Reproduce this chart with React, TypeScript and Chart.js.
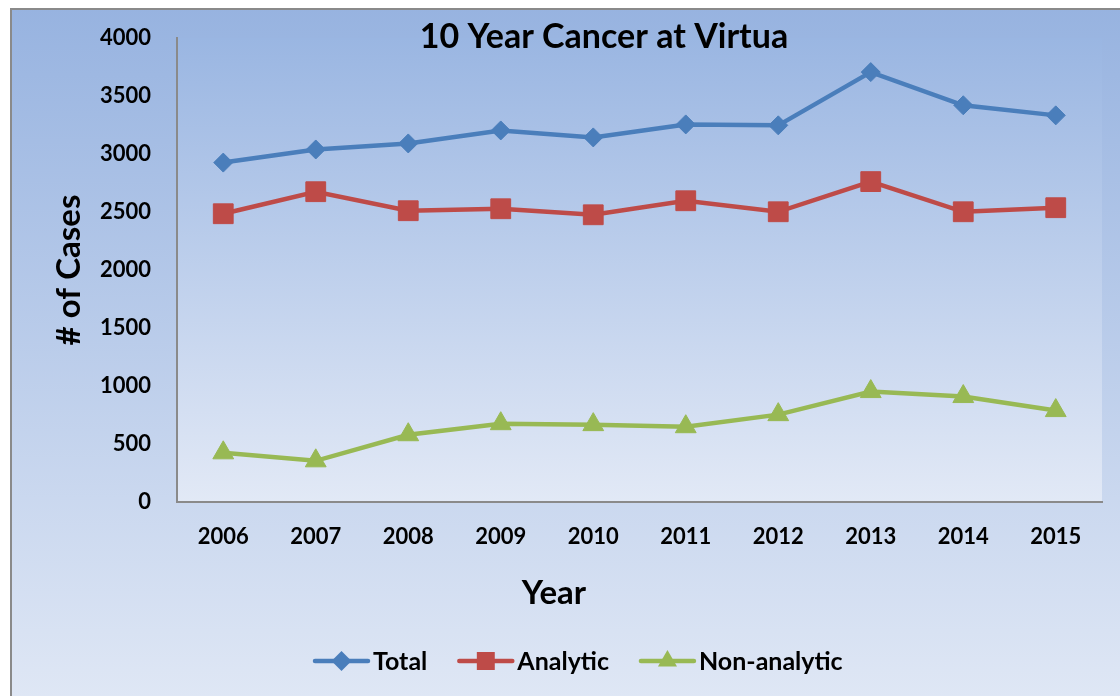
import React, { useEffect, useRef } from "react";
import { Chart, registerables } from "chart.js";

Chart.register(...registerables);

const years = ["2006", "2007", "2008", "2009", "2010", "2011", "2012", "2013", "2014", "2015"];
const totalCases = [2926, 3039, 3091, 3203, 3143, 3255, 3247, 3706, 3420, 3333];
const analyticCases = [2485, 2675, 2511, 2528, 2476, 2597, 2502, 2762, 2502, 2537];
const nonAnalyticCases = [424, 355, 580, 675, 667, 649, 753, 952, 909, 788];
const yMin = 0;
const yMax = 4000;
const yStep = 500;
const chartTitle = "10 Year Cancer at Virtua";
const xTitle = "Year";
const yTitle = "# of Cases";

const FONT = "Lato, 'Open Sans', sans-serif";
const BLUE = "#4a7ebb";
const RED = "#be4b48";
const GREEN = "#98b954";

const W = 1110;
const H = 690;

function drawMarker(ctx: CanvasRenderingContext2D, style: string, x: number, y: number, r: number, color: string) {
  ctx.save();
  ctx.fillStyle = color;
  ctx.beginPath();
  if (style === "rectRot") {
    ctx.moveTo(x, y - r);
    ctx.lineTo(x + r, y);
    ctx.lineTo(x, y + r);
    ctx.lineTo(x - r, y);
  } else if (style === "rect") {
    const s = r * Math.SQRT1_2;
    ctx.rect(x - s, y - s, 2 * s, 2 * s);
  } else {
    ctx.moveTo(x, y - r);
    ctx.lineTo(x + r * Math.sin((2 * Math.PI) / 3), y - r * Math.cos((2 * Math.PI) / 3));
    ctx.lineTo(x + r * Math.sin((4 * Math.PI) / 3), y - r * Math.cos((4 * Math.PI) / 3));
  }
  ctx.closePath();
  ctx.fill();
  ctx.restore();
}

const decorPlugin = {
  id: "decor",
  beforeDraw(chart: any) {
    const { ctx, chartArea: a, width, height } = chart;
    ctx.save();
    const g = ctx.createLinearGradient(0, 0, 0, height);
    g.addColorStop(0, "#97b3e0");
    g.addColorStop(1, "#dfe7f5");
    ctx.fillStyle = g;
    ctx.fillRect(0, 0, width, height);
    const g2 = ctx.createLinearGradient(0, a.top, 0, a.bottom);
    g2.addColorStop(0, "#9ab6e2");
    g2.addColorStop(1, "#e2e9f6");
    ctx.fillStyle = g2;
    ctx.fillRect(a.left, a.top, a.right - a.left, a.bottom - a.top);
    ctx.strokeStyle = "#8a8a8a";
    ctx.lineWidth = 2;
    ctx.strokeRect(1, 1, width + 20, height + 20);
    ctx.restore();
  },
  afterDraw(chart: any) {
    const { ctx } = chart;
    ctx.save();
    ctx.fillStyle = "#000";
    ctx.textAlign = "center";
    ctx.textBaseline = "middle";
    ctx.font = `bold 34px ${FONT}`;
    ctx.fillText(chartTitle, 594, 29);
    ctx.font = `bold 33px ${FONT}`;
    ctx.fillText(xTitle, 544, 585);

    // legend
    ctx.font = `bold 25px ${FONT}`;
    const lineLen = 57;
    const gap = 3;
    const itemGap = 30;
    let x = 303;
    const y = 653;
    chart.data.datasets.forEach((ds: any) => {
      const w = ctx.measureText(ds.label).width;
      ctx.strokeStyle = ds.borderColor;
      ctx.lineWidth = 4.5;
      ctx.lineCap = "round";
      ctx.beginPath();
      ctx.moveTo(x + 2, y);
      ctx.lineTo(x + lineLen - 2, y);
      ctx.stroke();
      drawMarker(ctx, ds.pointStyle, x + lineLen / 2, y, ds.legendRadius, ds.borderColor);
      ctx.fillStyle = "#000";
      ctx.textAlign = "left";
      ctx.fillText(ds.label, x + lineLen + gap, y + 1);
      x += lineLen + gap + w + itemGap;
    });
    ctx.restore();
  },
};

export default function App() {
  const ref = useRef<HTMLCanvasElement>(null);
  useEffect(() => {
    const canvas = ref.current!;
    const mk = (label: string, data: number[], color: string, style: string, r: number, lr: number) => ({
      label,
      data,
      borderColor: color,
      backgroundColor: color,
      borderWidth: 4.5,
      pointStyle: style,
      pointRadius: r,
      pointBackgroundColor: color,
      pointBorderColor: color,
      pointBorderWidth: 1,
      tension: 0,
      legendRadius: lr,
    });
    const chart = new Chart(canvas, {
      type: "line",
      data: {
        labels: years,
        datasets: [
          mk("Total", totalCases, BLUE, "rectRot", 9.5, 10),
          mk("Analytic", analyticCases, RED, "rect", 14, 12.7),
          mk("Non-analytic", nonAnalyticCases, GREEN, "triangle", 12, 11),
        ] as any,
      },
      options: {
        responsive: false,
        animation: false,
        devicePixelRatio: 1,
        layout: { autoPadding: false, padding: { left: 0, top: 30, right: 18, bottom: 76 } },
        plugins: {
          legend: { display: false },
          title: { display: false },
          tooltip: { enabled: false },
        },
        scales: {
          x: {
            type: "category",
            offset: true,
            grid: { display: false, drawTicks: false },
            border: { display: true, color: "#8a8a8a", width: 2 },
            ticks: {
              color: "#000",
              font: { family: FONT, size: 22, weight: "bold" },
              padding: 22,
              maxRotation: 0,
              autoSkip: false,
            },
            afterFit(scale: any) {
              scale.height = 120;
              scale.paddingLeft = 0;
              scale.paddingRight = 0;
            },
          },
          y: {
            min: yMin,
            max: yMax,
            grid: { display: false, drawTicks: false },
            border: { display: true, color: "#8a8a8a", width: 2 },
            ticks: {
              stepSize: yStep,
              color: "#000",
              font: { family: FONT, size: 22, weight: "bold" },
              padding: 26,
              callback: (v: any) => String(v),
            },
            title: {
              display: true,
              text: yTitle,
              color: "#000",
              font: { family: FONT, size: 33, weight: "bold", lineHeight: 1 },
              padding: { top: 43, bottom: 0 },
            },
            afterFit(scale: any) {
              scale.width = 167;
              scale.paddingTop = 0;
              scale.paddingBottom = 0;
            },
          },
        },
      },
      plugins: [decorPlugin],
    } as any);
    return () => chart.destroy();
  }, []);
  return (
    <div style={{ position: "fixed", left: 10, top: 8, width: W, height: H }}>
      <canvas ref={ref} width={W} height={H} style={{ width: W, height: H, display: "block" }} />
    </div>
  );
}
